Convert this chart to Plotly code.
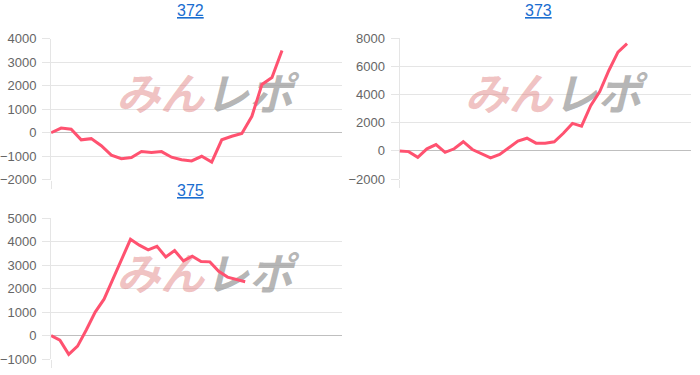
import plotly.graph_objects as go

# ---- data ----
titles = ["372", "373", "375"]
s372 = [0, 200, 150, -300, -250, -550, -950, -1100, -1050, -800, -840, -800,
        -1040, -1150, -1200, -1000, -1250, -300, -150, -30, 700, 2050, 2350, 3500]
s373 = [0, -50, -450, 150, 450, -100, 150, 650, 100, -200, -500, -250, 250,
        700, 900, 550, 550, 650, 1250, 1950, 1750, 3200, 4200, 5700, 7000, 7600]
s375 = [0, -200, -800, -450, 250, 1000, 1550, 2400, 3300, 4100, 3850, 3650,
        3800, 3350, 3620, 3180, 3380, 3150, 3140, 2740, 2490, 2380, 2290]
series = [s372, s373, s375]
x_counts = [30, 33, 34]          # number of categories on each x axis
y_ranges = [(-2000, 4000, 1000), (-2000, 8000, 2000), (-1000, 5000, 1000)]

W, H = 700, 375
LINE = "rgb(255,82,112)"
GRID = "rgba(0,0,0,0.1)"
ZERO = "rgba(0,0,0,0.25)"

# pixel boxes of the three plot areas: (left, right, top, bottom)
boxes = [(48.3, 340.7, 33.0, 180.0), (398.3, 690.7, 32.3, 179.3), (48.3, 340.7, 220.0, 366.7)]
title_pos = [(188, 17.5), (537.5, 17.5), (188, 205.5)]

fig = go.Figure()
for i, (vals, n, (ymin, ymax, dt), box) in enumerate(zip(series, x_counts, y_ranges, boxes)):
    sfx = "" if i == 0 else str(i + 1)
    xa, ya = "x" + sfx, "y" + sfx
    xmax = n - 1
    # watermark (drawn beneath the line)
    fy = ymin + 0.57 * (ymax - ymin)
    fig.add_trace(go.Scatter(x=[0.375 * xmax], y=[fy], mode="text", text=["みん"],
                             textfont=dict(family="Noto Sans CJK JP", size=44, color="rgba(222,120,120,0.45)",
                                           weight="bold", style="italic"),
                             hoverinfo="skip", showlegend=False, xaxis=xa, yaxis=ya))
    fig.add_trace(go.Scatter(x=[0.68 * xmax], y=[fy], mode="text", text=["レポ"],
                             textfont=dict(family="Noto Sans CJK JP", size=44, color="rgba(150,150,150,0.7)",
                                           weight="bold", style="italic"),
                             hoverinfo="skip", showlegend=False, xaxis=xa, yaxis=ya))
    fig.add_trace(go.Scatter(x=list(range(len(vals))), y=vals, mode="lines",
                             line=dict(color=LINE, width=3), showlegend=False,
                             xaxis=xa, yaxis=ya))
    l, r, t, b = box
    fig.update_layout(**{
        "xaxis" + sfx: dict(domain=[l / W, r / W], range=[0, xmax], showgrid=False, zeroline=False,
                            showline=False, tickvals=[0], ticks="outside", ticklen=8, tickcolor=GRID,
                            showticklabels=False, anchor=ya, fixedrange=True),
        "yaxis" + sfx: dict(domain=[1 - b / H, 1 - t / H], range=[ymin - 1e-6 * dt, ymax + 1e-6 * dt],
                            dtick=dt, tick0=0, showgrid=True, gridcolor=GRID, gridwidth=1,
                            zeroline=True, zerolinecolor=ZERO, zerolinewidth=1,
                            showline=True, linecolor=GRID, linewidth=1,
                            ticks="outside", ticklen=8, tickcolor=GRID, ticklabelstandoff=3,
                            tickfont=dict(family="Liberation Sans, Arial", size=13, color="#666"),
                            anchor=xa, fixedrange=True),
    })
    tx, ty = title_pos[i]
    fig.add_annotation(x=tx / W, y=1 - ty / H, xref="paper", yref="paper", xanchor="center",
                       yanchor="bottom", yshift=3, showarrow=False,
                       text="<u>" + titles[i] + "</u>",
                       font=dict(family="Liberation Sans, Arial", size=16, color="#1a6dd0"))

fig.update_layout(width=W, height=H, margin=dict(l=0, r=0, t=0, b=0),
                  paper_bgcolor="white", plot_bgcolor="white")
fig.write_html("out.html", config={"displayModeBar": False})
